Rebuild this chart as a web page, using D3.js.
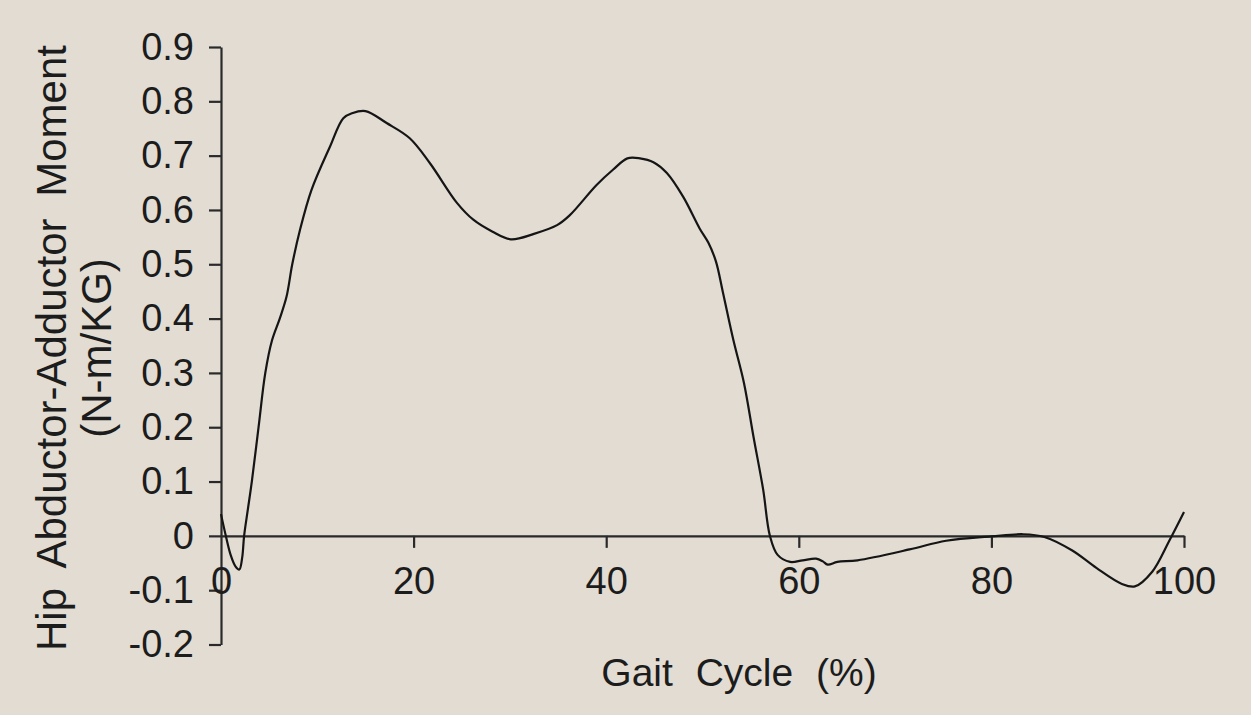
<!DOCTYPE html>
<html>
<head>
<meta charset="utf-8">
<script src="https://cdn.jsdelivr.net/npm/d3@7"></script>
<style>
  html, body { margin: 0; padding: 0; background: #e2dcd3; }
  svg { display: block; }
  text { font-family: "Liberation Sans", Arial, Helvetica, sans-serif; fill: #1c1c1c; }
</style>
</head>
<body>
<svg id="chart" width="1251" height="715"></svg>
<script>
// Hip abductor-adductor moment over one gait cycle
const gaitPct = [0, 0.5, 1.0, 1.5, 1.9, 2.2, 2.4, 2.8, 3.2, 3.9, 4.6, 5.3, 6.1, 6.8, 7.4, 8.2, 9.4, 11.3, 12.7, 13.6, 15.0, 17.2, 19.6, 21.7, 24.5, 26.2, 28.2, 30.1, 32.5, 34.9, 36.2, 39.0, 40.7, 42.2, 43.5, 44.9, 46.3, 48.0, 49.7, 50.6, 51.4, 52.1, 53.2, 54.3, 55.3, 56.3, 57.0, 57.8, 59.1, 60.4, 61.8, 62.5, 63.0, 64.0, 66.1, 71.5, 75.3, 80.0, 83.3, 85.5, 88.4, 90.9, 93.5, 94.9, 96.7, 98.5, 100];
const moment = [0.040, 0.000, -0.035, -0.056, -0.062, -0.040, 0.000, 0.050, 0.100, 0.200, 0.300, 0.360, 0.400, 0.440, 0.500, 0.563, 0.637, 0.716, 0.769, 0.778, 0.782, 0.760, 0.732, 0.686, 0.613, 0.582, 0.560, 0.546, 0.556, 0.572, 0.590, 0.646, 0.674, 0.695, 0.695, 0.688, 0.668, 0.624, 0.566, 0.540, 0.505, 0.450, 0.361, 0.282, 0.182, 0.085, 0.000, -0.035, -0.048, -0.045, -0.042, -0.047, -0.053, -0.048, -0.045, -0.025, -0.009, -0.001, 0.003, -0.002, -0.027, -0.059, -0.088, -0.093, -0.066, -0.008, 0.044];

const xTicks = [0, 20, 40, 60, 80, 100];
const xTickLabels = ["0", "20", "40", "60", "80", "100"];
const yTicks = [0.9, 0.8, 0.7, 0.6, 0.5, 0.4, 0.3, 0.2, 0.1, 0, -0.1, -0.2];
const yTickLabels = ["0.9", "0.8", "0.7", "0.6", "0.5", "0.4", "0.3", "0.2", "0.1", "0", "-0.1", "-0.2"];

const xTitle = "Gait Cycle (%)";
const yTitleLines = ["Hip Abductor-Adductor Moment", "(N-m/KG)"];

const svg = d3.select("#chart");

svg.append("rect")
  .attr("width", 1251).attr("height", 715)
  .attr("fill", "#e2dcd3");

const x = d3.scaleLinear().domain([0, 100]).range([221, 1184]);
const y = d3.scaleLinear().domain([-0.2, 0.9]).range([644.5, 47]);

const axisColor = "#2a2a2a";

// y axis
const yAxis = svg.append("g")
  .attr("transform", `translate(${x(0)},0)`)
  .call(d3.axisLeft(y)
    .tickValues(yTicks)
    .tickFormat((d, i) => yTickLabels[i])
    .tickSize(12)
    .tickSizeOuter(0)
    .tickPadding(15));

// x axis along the zero line
const xAxis = svg.append("g")
  .attr("transform", `translate(0,${y(0)})`)
  .call(d3.axisBottom(x)
    .tickValues(xTicks)
    .tickFormat((d, i) => xTickLabels[i])
    .tickSize(12)
    .tickSizeOuter(0)
    .tickPadding(19));

[yAxis, xAxis].forEach(g => {
  g.select(".domain").attr("stroke", axisColor).attr("stroke-width", 2.2);
  g.selectAll(".tick line").attr("stroke", axisColor).attr("stroke-width", 2.2);
  g.selectAll(".tick text")
    .attr("fill", "#1c1c1c")
    .style("font-size", "38px")
    .style("font-family", "'Liberation Sans', Arial, sans-serif");
});
xAxis.select(".tick line").attr("stroke-opacity", 0);

// moment curve
const pts = gaitPct.map((g, i) => [g, moment[i]]);
svg.append("path")
  .datum(pts)
  .attr("fill", "none")
  .attr("stroke", "#151515")
  .attr("stroke-width", 2.2)
  .attr("stroke-linejoin", "round")
  .attr("d", d3.line()
    .x(d => x(d[0]))
    .y(d => y(d[1]))
    .curve(d3.curveCatmullRom.alpha(0.5)));

// axis titles
svg.append("text")
  .attr("x", 739).attr("y", 686)
  .attr("text-anchor", "middle")
  .style("font-size", "39px")
  .style("word-spacing", "12px")
  .text(xTitle);

const yTitle = svg.append("text")
  .attr("transform", "translate(0,348) rotate(-90)")
  .attr("text-anchor", "middle")
  .style("font-size", "42px")
  .style("word-spacing", "10px");
yTitle.append("tspan").attr("x", 0).attr("y", 66).text(yTitleLines[0]);
yTitle.append("tspan").attr("x", 0).attr("y", 111).text(yTitleLines[1]);
</script>
</body>
</html>
